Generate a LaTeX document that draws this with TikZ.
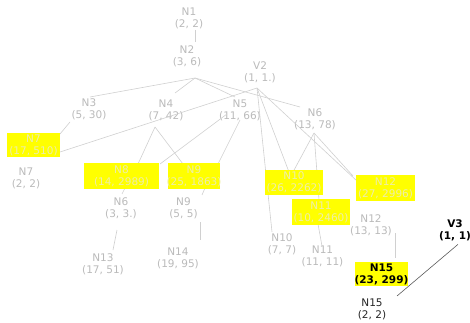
\documentclass[tikz,border=0pt]{standalone}
\usepackage{fontspec}
\setmainfont{DejaVu Sans}
\definecolor{txtgrey}{RGB}{186,186,186}
\definecolor{linkgrey}{RGB}{208,208,208}
\definecolor{hilite}{RGB}{255,255,0}
\definecolor{hitext}{RGB}{238,238,170}
\definecolor{darklink}{RGB}{90,90,90}
\begin{document}
\begin{tikzpicture}[x=1pt,y=-1pt,
  lbl/.style={font=\fontsize{10.5}{12}\selectfont, text=txtgrey, align=center, inner sep=0pt},
  boldlbl/.style={font=\bfseries\fontsize{10.5}{12}\selectfont, text=black, align=center, inner sep=0pt},
  plainlbl/.style={font=\fontsize{10.5}{12}\selectfont, text=black!85, align=center, inner sep=0pt},
  hibox/.style={fill=hilite, draw=none, inner sep=0pt},
  hitxt/.style={font=\fontsize{10.5}{12}\selectfont, text=hitext, align=center, inner sep=0pt},
  link/.style={draw=linkgrey, line width=0.6pt}]
\useasboundingbox (0,0) rectangle (470,323);

% text labels of the grey tree
\node[lbl] (n1)  at (189,18.5) {N1\\(2, 2)};
\node[lbl] (n2)  at (187,56)   {N2\\(3, 6)};
\node[lbl] (n3)  at (89,109)   {N3\\(5, 30)};
\node[lbl] (n4)  at (166,110)  {N4\\(7, 42)};
\node[lbl] (n5)  at (240,110)  {N5\\(11, 66)};
\node[lbl] (v2)  at (260,72.5) {V2\\(1, 1.)};
\node[lbl] (n6)  at (315,119.5){N6\\(13, 78)};
\node[lbl] (n7)  at (26,178.5) {N7\\(2, 2)};
\node[lbl] (n6b) at (121,208)  {N6\\(3, 3.)};
\node[lbl] (n9)  at (183.5,208.5) {N9\\(5, 5)};
\node[lbl] (n13) at (103,264.5){N13\\(17, 51)};
\node[lbl] (n14) at (178,258.5){N14\\(19, 95)};
\node[lbl] (n10) at (282,244)  {N10\\(7, 7)};
\node[lbl] (n11) at (322.5,256){N11\\(11, 11)};
\node[lbl] (n12) at (371,225.5){N12\\(13, 13)};

% branching points
\coordinate (j2) at (195,78);
\coordinate (jv) at (257,88);
\coordinate (j4) at (155,127);
\coordinate (j6) at (314,133);

% connectors of the grey tree (drawn under the highlighted boxes)
\draw[link] (195,30) -- (195,42);
\draw[link] (j2) -- (90,97);
\draw[link] (j2) -- (175,93);
\draw[link] (j2) -- (235,97);
\draw[link] (j2) -- (300,107);
\draw[link] (jv) -- (60,152);
\draw[link] (jv) -- (272,232);
\draw[link] (jv) -- (289,172);
\draw[link] (jv) -- (357,181);
\draw[link] (70,122) -- (60,134);
\draw[link] (j4) -- (138,164);
\draw[link] (j4) -- (183,164);
\draw[link] (227,114) -- (160,164);
\draw[link] (240,120) -- (218,164);
\draw[link] (j6) -- (293,172);
\draw[link] (j6) -- (319,200);
\draw[link] (j6) -- (353,176);
\draw[link] (125,188) -- (122,194);
\draw[link] (205,188) -- (202,195);
\draw[link] (117,230) -- (113,250);
\draw[link] (200,222) -- (200,240);
\draw[link] (318,224) -- (322,246);
\draw[link] (395,233) -- (395,258);

% highlighted boxes
\node[hibox, minimum width=53pt, minimum height=24pt] (b7)  at (33.5,145)  {};
\node[hibox, minimum width=75pt, minimum height=26pt] (b8)  at (121.5,176) {};
\node[hibox, minimum width=52pt, minimum height=26pt] (b9)  at (194,176)   {};
\node[hibox, minimum width=58pt, minimum height=25pt] (b10) at (294,182.5) {};
\node[hibox, minimum width=58pt, minimum height=26pt] (b11) at (321,212)   {};
\node[hibox, minimum width=59pt, minimum height=26pt] (b12) at (385.5,188) {};
\node[hibox, minimum width=53pt, minimum height=24pt] (b15) at (381.5,274) {};

\node[hitxt] at (b7)  {N7\\(17, 510)};
\node[hitxt] at (b8)  {N8\\(14, 2989)};
\node[hitxt] at (b9)  {N9\\(25, 1863)};
\node[hitxt] at (b10) {N10\\(26, 2262)};
\node[hitxt] at (b11) {N11\\(10, 2460)};
\node[hitxt] at (b12) {N12\\(27, 2996)};
\node[boldlbl] at (b15) {N15\\(23, 299)};

% the second tree
\node[boldlbl]  (v3)  at (455,230.5) {V3\\(1, 1)};
\node[plainlbl] (n15) at (372,309)   {N15\\(2, 2)};
\draw[draw=darklink, line width=0.6pt] (v3.south) ++(3,3) -- (397,296);
\end{tikzpicture}
\end{document}
